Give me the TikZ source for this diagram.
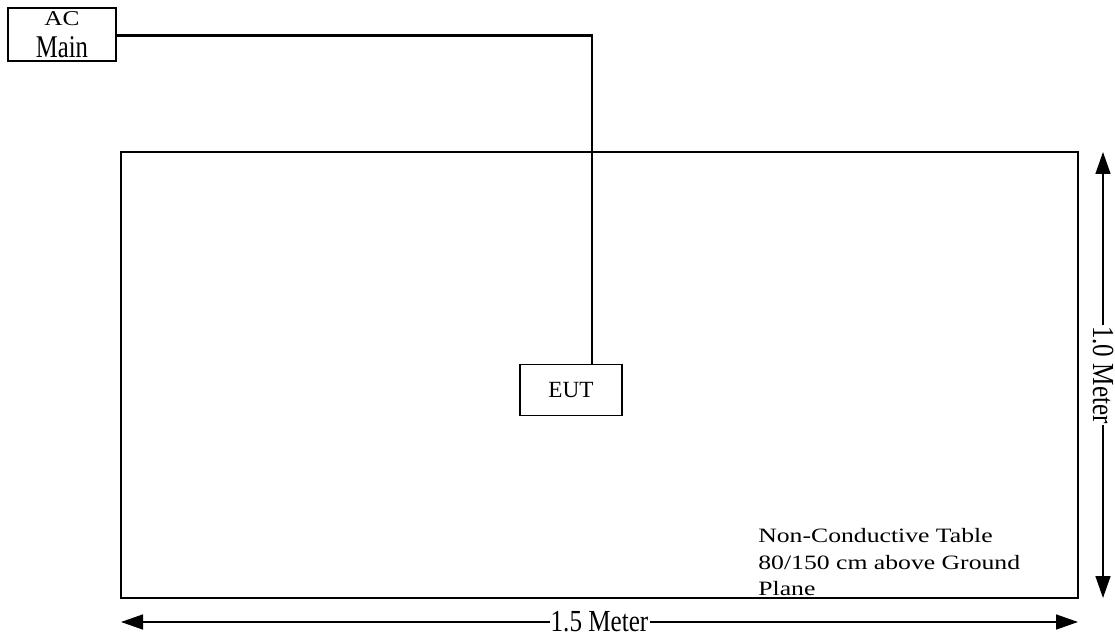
\documentclass[tikz,border=0pt]{standalone}
\usepackage{fontspec}
\setmainfont{Liberation Serif}
\usetikzlibrary{arrows.meta,calc}
\tikzset{
  unitbox/.style={draw, line width=1.1pt, align=center, inner sep=0pt},
  wire/.style={line width=2.1pt},
  dimline/.style={line width=1.1pt, {Triangle[length=0.55cm,width=0.375cm]}-{Triangle[length=0.55cm,width=0.375cm]}},
  dimlabel/.style={fill=white, inner sep=1pt, xscale=0.82, font=\fontsize{21.8}{24}\selectfont}
}
\begin{document}
\begin{tikzpicture}[font=\fontsize{14.5}{18.85}\selectfont]
  \useasboundingbox (0,0) rectangle (27.875,15.925);

  % Table
  \draw[wire] (3.025,0.975) rectangle (26.95,12.125);
  \node[anchor=north west, align=left, inner sep=0pt, xscale=1.26] (note) at (18.95,2.72)
    {Non-Conductive Table\\80/150 cm above Ground\\Plane};

  % Units
  \node[unitbox, minimum width=2.7cm, minimum height=1.325cm, font=\fontsize{15}{22.4}\selectfont] (ac) at (1.55,15.06)
    {\scalebox{1.2}[1]{AC}\\\scalebox{1.17}[1.5]{Main}};
  \node[unitbox, minimum width=2.55cm, minimum height=1.275cm, font=\fontsize{16.5}{20}\selectfont] (eut) at (14.275,6.175) {EUT};

  % Power cord
  \coordinate (bend) at (14.8,15.03);
  \draw[wire] (ac.east |- bend) -- (bend) -- (bend |- eut.north);

  % Dimensions
  \coordinate (wl) at (3.025,0.375);
  \coordinate (wr) at (26.95,0.375);
  \draw[dimline] (wl) -- (wr) node[dimlabel, midway] (width) {1.5 Meter};
  \coordinate (ht) at (27.575,12.125);
  \coordinate (hb) at (27.575,0.975);
  \draw[dimline] (ht) -- (hb) node[rotate=-90, dimlabel, midway] (depth) {1.0 Meter};
\end{tikzpicture}
\end{document}
